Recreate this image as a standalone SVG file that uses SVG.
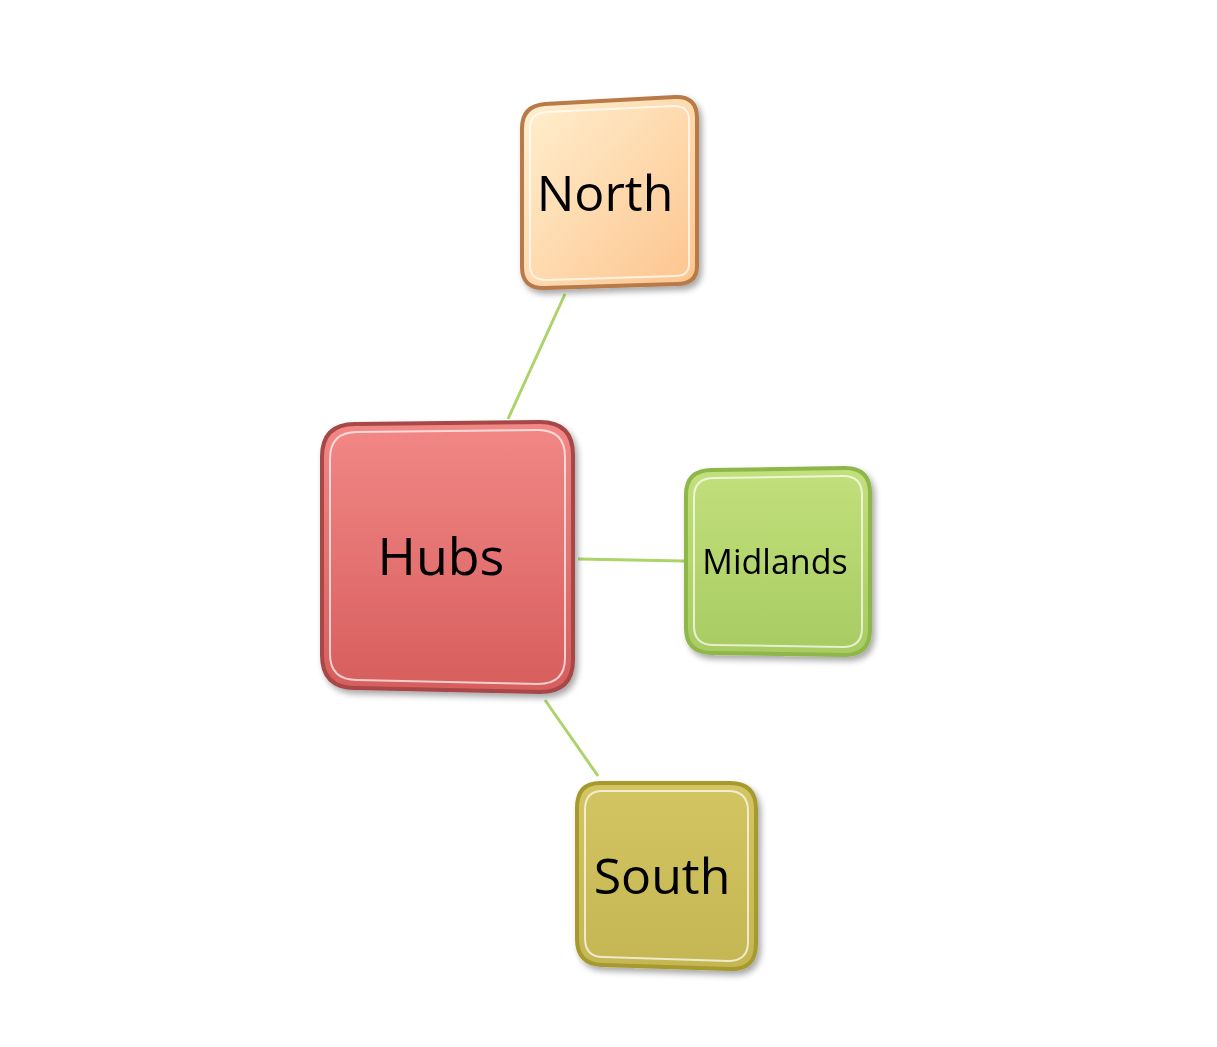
<svg xmlns="http://www.w3.org/2000/svg" width="1217" height="1047" viewBox="0 0 1217 1047">
<defs>
<linearGradient id="gN" x1="0" y1="0" x2="1" y2="1"><stop offset="0" stop-color="#fff0cf"/><stop offset="1" stop-color="#fdc48e"/></linearGradient>
<linearGradient id="gH" x1="0" y1="0" x2="0" y2="1"><stop offset="0" stop-color="#f28886"/><stop offset="1" stop-color="#d65e5c"/></linearGradient>
<linearGradient id="gM" x1="0" y1="0" x2="0" y2="1"><stop offset="0" stop-color="#c2e07c"/><stop offset="1" stop-color="#a8cb62"/></linearGradient>
<linearGradient id="gS" x1="0" y1="0" x2="0" y2="1"><stop offset="0" stop-color="#d3c562"/><stop offset="1" stop-color="#c4b652"/></linearGradient>
<filter id="sh" x="-20%" y="-20%" width="140%" height="140%"><feGaussianBlur in="SourceAlpha" stdDeviation="3"/><feOffset dx="3" dy="4"/><feComponentTransfer><feFuncA type="linear" slope="0.35"/></feComponentTransfer><feMerge><feMergeNode/><feMergeNode in="SourceGraphic"/></feMerge></filter>
</defs>
<style>
.t{font-family:"Open Sans","Liberation Sans",sans-serif;fill:#000;text-anchor:middle}
.hl{fill:none;stroke:#fff;stroke-opacity:.7;stroke-width:2}
.c{stroke:#acd46a;stroke-width:3;fill:none}
</style>
<g id="connectors">
<line class="c" x1="565" y1="294" x2="508" y2="419"/>
<line class="c" x1="578" y1="559" x2="684" y2="561"/>
<line class="c" x1="545" y1="700" x2="598" y2="776"/>
</g>
<g id="north" filter="url(#sh)">
<path d="M545 104 L675 97 Q697 96 697 118 L697 266 Q697 284 677 284 L545 288 Q522 289 522 267 L522 128 Q522 106 545 104 Z" fill="url(#gN)" stroke="#b87a4a" stroke-width="4"/>
<path class="hl" d="M547 112 L674 106 Q689 106 689 120 L689 264 Q689 276 675 276 L547 280 Q530 280 530 266 L530 128 Q530 113 547 112 Z"/>
<text class="t" x="605" y="211" font-size="50">North</text>
</g>
<g id="hubs" filter="url(#sh)">
<path d="M355 424 L540 422 Q573 422 573 455 L573 660 Q573 692 540 692 L355 688 Q322 688 322 655 L322 457 Q322 424 355 424 Z" fill="url(#gH)" stroke="#a84646" stroke-width="4"/>
<path class="hl" d="M357 432 L538 430 Q565 430 565 457 L565 658 Q565 684 538 684 L357 680 Q330 680 330 654 L330 459 Q330 432 357 432 Z"/>
<text class="t" x="441" y="575" font-size="52">Hubs</text>
</g>
<g id="midlands" filter="url(#sh)">
<path d="M712 470 L845 468 Q870 468 870 493 L870 630 Q870 655 845 655 L712 653 Q686 653 686 628 L686 495 Q686 470 712 470 Z" fill="url(#gM)" stroke="#8fb648" stroke-width="4"/>
<path class="hl" d="M714 478 L843 476 Q862 476 862 495 L862 628 Q862 647 843 647 L714 645 Q694 645 694 626 L694 497 Q694 478 714 478 Z"/>
<text class="t" x="775" y="574" font-size="34">Midlands</text>
</g>
<g id="south" filter="url(#sh)">
<path d="M600 783 L730 783 Q756 783 756 809 L756 944 Q756 970 730 969 L602 965 Q577 964 577 939 L577 808 Q577 783 600 783 Z" fill="url(#gS)" stroke="#a69a2e" stroke-width="4"/>
<path class="hl" d="M602 791 L728 791 Q748 791 748 811 L748 942 Q748 961 728 961 L603 957 Q585 957 585 938 L585 810 Q585 791 602 791 Z"/>
<text class="t" x="662" y="894" font-size="50">South</text>
</g>
</svg>
